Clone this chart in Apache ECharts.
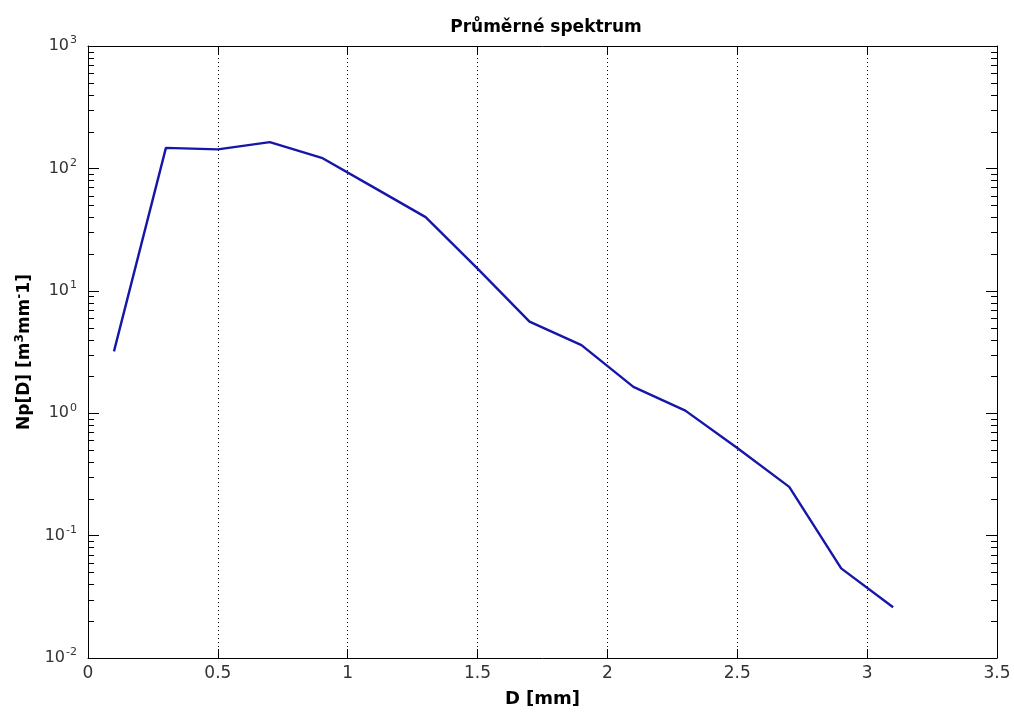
<!DOCTYPE html>
<html>
<head>
<meta charset="utf-8">
<title>Průměrné spektrum</title>
<script src="https://cdn.jsdelivr.net/npm/echarts@6/dist/echarts.min.js"></script>
<style>
  html, body { margin: 0; padding: 0; background: #fff; }
  #chart { width: 1014px; height: 713px; }
</style>
</head>
<body>
<div id="chart"></div>
<script>
// Mean drop size spectrum: diameter class centres and concentrations
const diameters = [0.1, 0.3, 0.5, 0.7, 0.9, 1.1, 1.3, 1.5, 1.7, 1.9, 2.1, 2.3, 2.5, 2.7, 2.9, 3.1];
const concentrations = [3.2, 147, 143, 164, 122, 70, 40, 15.2, 5.6, 3.6, 1.64, 1.05, 0.52, 0.25, 0.054, 0.026];

const xTicks = [0, 0.5, 1, 1.5, 2, 2.5, 3, 3.5];
const yDecades = [-2, -1, 0, 1, 2, 3];

const titleText = 'Průměrné spektrum';
const xName = 'D [mm]';

const FONT = '"DejaVu Sans", Verdana, sans-serif';
const LINE_BLUE = '#1616a8';

const chart = echarts.init(document.getElementById('chart'), null, { renderer: 'canvas' });

const seriesData = diameters.map((d, i) => [d, concentrations[i]]);

const yMin = Math.pow(10, yDecades[0]);
const yMax = Math.pow(10, yDecades[yDecades.length - 1]);

const labelRich = {
  b: { fontSize: 16, color: '#333', fontFamily: FONT },
  s: { fontSize: 11, color: '#333', fontFamily: FONT, padding: [0, 0, 11, 1] }
};

const option = {
  animation: false,
  backgroundColor: '#fff',
  title: {
    text: titleText,
    left: 541,
    top: 14,
    textAlign: 'center',
    textStyle: { fontFamily: FONT, fontWeight: 'bold', fontSize: 17, color: '#000' }
  },
  grid: { left: 88, right: 17, top: 46, bottom: 50, containLabel: false },
  xAxis: [
    {
      type: 'value',
      position: 'bottom',
      min: xTicks[0],
      max: xTicks[xTicks.length - 1],
      interval: 0.5,
      name: xName,
      nameLocation: 'middle',
      nameGap: 32,
      nameTextStyle: { fontFamily: FONT, fontWeight: 'bold', fontSize: 18, color: '#000' },
      axisLine: { show: true, onZero: false, lineStyle: { color: '#000', width: 1 } },
      axisTick: { show: true, inside: true, length: 9, lineStyle: { color: '#000' } },
      axisLabel: {
        margin: 7, fontFamily: FONT, fontSize: 17, color: '#333',
        formatter: v => String(v)
      },
      splitLine: { show: true, lineStyle: { color: '#000', type: [1, 3], width: 1 } }
    },
    {
      type: 'value',
      position: 'top',
      min: xTicks[0],
      max: xTicks[xTicks.length - 1],
      interval: 0.5,
      axisLine: { show: true, onZero: false, lineStyle: { color: '#000', width: 1 } },
      axisTick: { show: true, inside: true, length: 9, lineStyle: { color: '#000' } },
      axisLabel: { show: false },
      splitLine: { show: false }
    }
  ],
  yAxis: [
    {
      type: 'log',
      logBase: 10,
      position: 'left',
      min: yMin,
      max: yMax,
      name: '{a|Np[D] [m}{s|3}{a|mm}{s|-}{a|1]}',
      nameLocation: 'middle',
      nameGap: 52,
      nameRotate: 90,
      nameTextStyle: {
        rich: {
          a: { fontFamily: FONT, fontWeight: 'bold', fontSize: 17, color: '#000' },
          s: { fontFamily: FONT, fontWeight: 'bold', fontSize: 12, color: '#000', padding: [0, 0, 10, 0] }
        }
      },
      axisLine: { show: true, onZero: false, lineStyle: { color: '#000', width: 1 } },
      axisTick: { show: true, inside: true, length: 11, lineStyle: { color: '#000' } },
      axisLabel: {
        margin: 11,
        formatter: v => '{b|10}{s|' + Math.round(Math.log10(v)) + '}',
        rich: labelRich
      },
      splitLine: { show: false }
    },
    {
      type: 'log',
      logBase: 10,
      position: 'right',
      min: yMin,
      max: yMax,
      axisLine: { show: true, onZero: false, lineStyle: { color: '#000', width: 1 } },
      axisTick: { show: true, inside: true, length: 11, lineStyle: { color: '#000' } },
      axisLabel: { show: false },
      splitLine: { show: false }
    }
  ],
  series: [
    {
      type: 'line',
      xAxisIndex: 0,
      yAxisIndex: 0,
      data: seriesData,
      showSymbol: false,
      symbol: 'none',
      lineStyle: { color: LINE_BLUE, width: 2.4 },
      emphasis: { disabled: true }
    }
  ]
};

chart.setOption(option);

// Log-scale minor ticks (2..9 × 10^n) on both vertical edges of the box
function drawMinorTicks() {
  const xl = chart.convertToPixel({ xAxisIndex: 0 }, xTicks[0]);
  const xr = chart.convertToPixel({ xAxisIndex: 0 }, xTicks[xTicks.length - 1]);
  const els = [];
  for (let i = 0; i < yDecades.length - 1; i++) {
    const base = Math.pow(10, yDecades[i]);
    for (let k = 2; k <= 9; k++) {
      const y = Math.round(chart.convertToPixel({ yAxisIndex: 0 }, k * base)) + 0.5;
      els.push({
        type: 'line', silent: true,
        shape: { x1: xl, y1: y, x2: xl + 6, y2: y },
        style: { stroke: '#000', lineWidth: 1 }
      });
      els.push({
        type: 'line', silent: true,
        shape: { x1: xr - 6, y1: y, x2: xr, y2: y },
        style: { stroke: '#000', lineWidth: 1 }
      });
    }
  }
  chart.setOption({ graphic: { elements: els } });
}
drawMinorTicks();
</script>
</body>
</html>
